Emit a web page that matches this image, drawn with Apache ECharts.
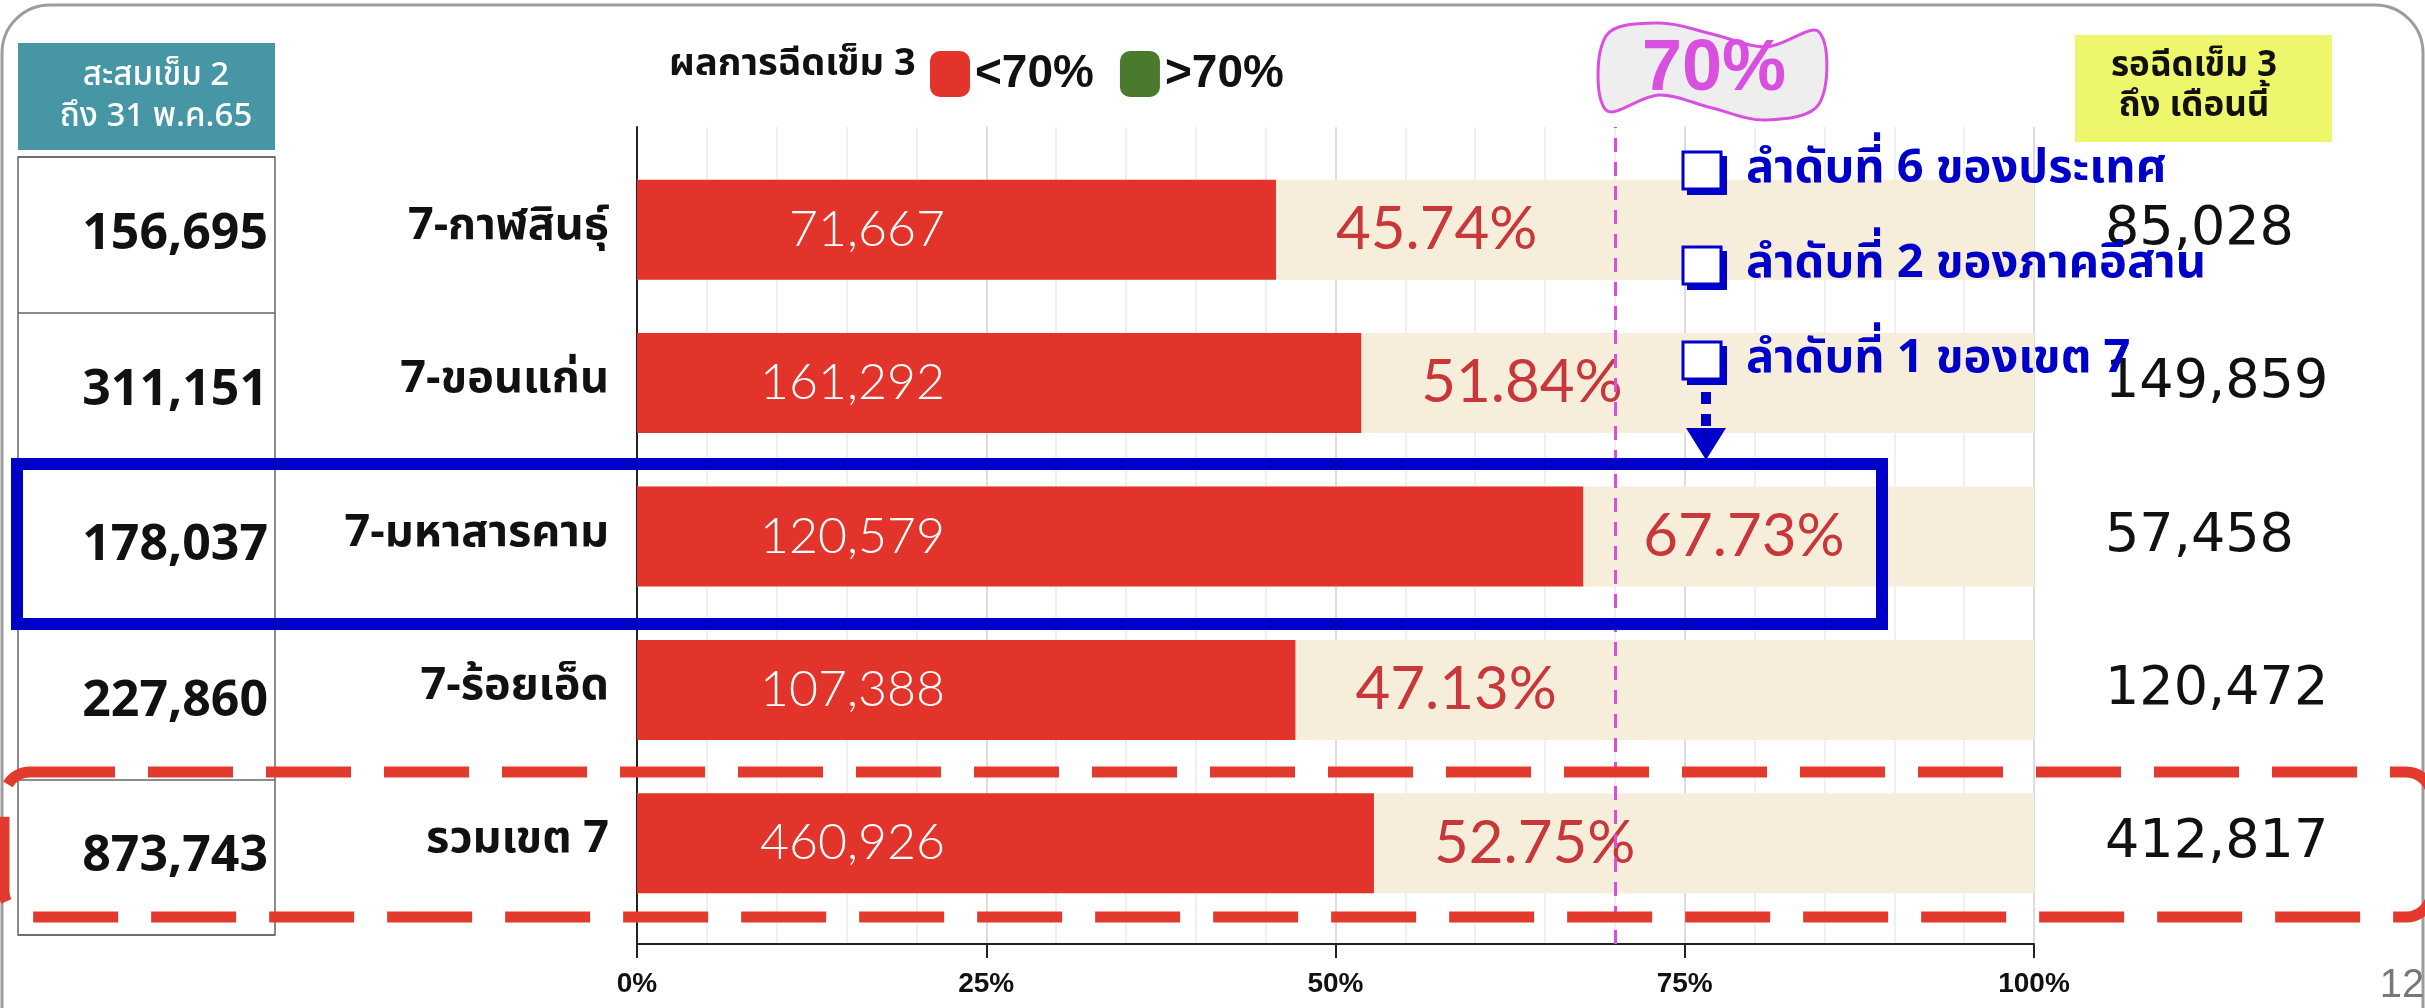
<!DOCTYPE html>
<html>
<head>
<meta charset="utf-8">
<script src="https://cdn.jsdelivr.net/npm/echarts@6/dist/echarts.min.js"></script>
<style>
  html, body { margin: 0; padding: 0; background: #fff; }
  #chart { width: 2425px; height: 1008px; }
</style>
</head>
<body>
<div id="chart"></div>
<script>
// data
const categories = ['7-กาฬสินธุ์', '7-ขอนแก่น', '7-มหาสารคาม', '7-ร้อยเอ็ด', 'รวมเขต 7'];
const dose2Total = [156695, 311151, 178037, 227860, 873743];   // สะสมเข็ม 2
const dose3Done = [71667, 161292, 120579, 107388, 460926];     // ฉีดเข็ม 3 แล้ว
const dose3Pct = [45.74, 51.84, 67.73, 47.13, 52.75];          // % เข็ม 3
const dose3Waiting = [85028, 149859, 57458, 120472, 412817];   // รอฉีดเข็ม 3
const target = 70;
const notes = ['ลำดับที่ 6 ของประเทศ', 'ลำดับที่ 2 ของภาคอีสาน', 'ลำดับที่ 1 ของเขต 7'];

const fmt = v => v.toLocaleString('en-US');
const thai = "'Noto Sans Thai', 'Noto Sans', 'DejaVu Sans', sans-serif";
const narrow = "'Liberation Sans Narrow', 'Liberation Sans', sans-serif";

const below = dose3Pct.map(v => (v < target ? v : '-'));
const above = dose3Pct.map(v => (v >= target ? v : '-'));

const pctLabel = {
  show: true,
  position: 'right',
  distance: 60,
  formatter: p => p.value.toFixed(2) + '%',
  color: '#c8383b',
  fontFamily: 'Lato, sans-serif',
  fontSize: 60
};

const noteGraphics = [];
notes.forEach((t, i) => {
  const y = 150 + i * 95;
  noteGraphics.push(
    { type: 'rect', z: 100, shape: { x: 1687, y: y + 6, width: 40, height: 39 }, style: { fill: '#0000c8' } },
    { type: 'rect', z: 101, shape: { x: 1683, y: y + 2, width: 38, height: 37 }, style: { fill: '#fff', stroke: '#0000c8', lineWidth: 3 } },
    { type: 'text', z: 101, x: 1746, y: y + 22,
      style: { text: t, fill: '#0000c8', font: 'bold 47px ' + thai, textAlign: 'left', textVerticalAlign: 'middle' } }
  );
});

const chart = echarts.init(document.getElementById('chart'));

const option = {
  animation: false,
  backgroundColor: '#fff',
  grid: [
    { left: 637, right: 391, top: 153, bottom: 88 },
    { left: 637, right: 391, top: 127, bottom: 64 },
    { left: 18, right: 2150, top: 157, bottom: 73, show: true, borderColor: '#666', borderWidth: 1.5, backgroundColor: 'transparent' }
  ],
  legend: {
    data: ['<70%', '>70%'],
    left: 925,
    top: 46,
    icon: 'roundRect',
    itemWidth: 40,
    itemHeight: 46,
    itemGap: 26,
    selectedMode: false,
    textStyle: { fontFamily: narrow, fontWeight: 'bold', fontSize: 46, color: '#111' }
  },
  xAxis: [
    { gridIndex: 0, type: 'value', min: 0, max: 100, show: false },
    {
      gridIndex: 1, type: 'value', min: 0, max: 100, interval: 25,
      axisLine: { show: true, lineStyle: { color: '#222', width: 2 } },
      axisTick: { show: true, length: 14, lineStyle: { color: '#222', width: 2 } },
      splitLine: { show: true, lineStyle: { color: '#d2d2d2', width: 1.5 } },
      minorTick: { show: false, splitNumber: 5 },
      minorSplitLine: { show: true, lineStyle: { color: '#ececec', width: 1.5 } },
      axisLabel: { formatter: '{value}%', margin: 26, color: '#111', fontFamily: narrow, fontWeight: 'bold', fontSize: 28 }
    },
    { gridIndex: 2, type: 'value', show: false }
  ],
  yAxis: [
    {
      gridIndex: 0, type: 'category', data: categories, inverse: true,
      axisLine: { show: false }, axisTick: { show: false },
      axisLabel: { margin: 28, color: '#111', fontFamily: thai, fontWeight: 'bold', fontSize: 45 }
    },
    {
      gridIndex: 0, type: 'category', data: dose3Waiting.map(fmt), inverse: true, position: 'right',
      axisLine: { show: false }, axisTick: { show: false },
      axisLabel: { margin: 71, align: 'left', color: '#111', fontFamily: "'DejaVu Sans', sans-serif", fontSize: 54 }
    },
    {
      gridIndex: 1, type: 'value', min: 0, max: 1,
      axisLine: { show: true, lineStyle: { color: '#222', width: 2 } },
      axisTick: { show: false }, axisLabel: { show: false }, splitLine: { show: false }
    },
    {
      gridIndex: 2, type: 'category', data: dose2Total.map(fmt), inverse: true, position: 'right',
      axisLine: { show: false }, axisTick: { show: false },
      splitLine: { show: true, lineStyle: { color: '#666', width: 1.5 } },
      axisLabel: { inside: true, align: 'right', margin: 7, color: '#111', fontFamily: "'Open Sans', sans-serif", fontWeight: 'bold', fontSize: 50 }
    }
  ],
  series: [
    {
      name: '<70%', type: 'bar', xAxisIndex: 0, yAxisIndex: 0,
      data: below, barWidth: 100, barGap: '-100%',
      itemStyle: { color: '#e2342a' },
      showBackground: true,
      backgroundStyle: { color: '#f6eedb' },
      label: pctLabel
    },
    {
      name: '>70%', type: 'bar', xAxisIndex: 0, yAxisIndex: 0,
      data: above, barWidth: 100, barGap: '-100%',
      itemStyle: { color: '#4a7a2e' },
      label: pctLabel
    },
    {
      name: 'count', type: 'bar', xAxisIndex: 0, yAxisIndex: 0,
      data: dose3Pct, barWidth: 100, barGap: '-100%', silent: true,
      itemStyle: { color: 'rgba(0,0,0,0)' },
      label: {
        show: true, position: [308, '50%'], align: 'right', verticalAlign: 'middle',
        formatter: p => fmt(dose3Done[p.dataIndex]),
        color: '#fff', fontFamily: 'Lato, sans-serif', fontWeight: 300, fontSize: 50
      }
    },
    {
      name: 'target', type: 'line', xAxisIndex: 1, yAxisIndex: 2, data: [],
      markLine: {
        silent: true, symbol: 'none', label: { show: false },
        lineStyle: { color: '#d94fe0', type: [14, 10], width: 3 },
        data: [{ xAxis: target }]
      }
    }
  ],
  graphic: [
    // slide frame
    { type: 'rect', silent: true, shape: { x: 2, y: 5, width: 2421, height: 1200, r: 48 }, style: { fill: 'none', stroke: '#9c9c9c', lineWidth: 3 } },
    // left header
    { type: 'rect', shape: { x: 18, y: 43, width: 257, height: 107 }, style: { fill: '#4796a6' } },
    { type: 'text', x: 156, y: 99, style: { text: 'สะสมเข็ม 2\nถึง 31 พ.ค.65', fill: '#fff', font: '500 33px ' + thai, lineHeight: 41, textAlign: 'center', textVerticalAlign: 'middle' } },
    // legend caption
    { type: 'text', x: 669, y: 67, style: { text: 'ผลการฉีดเข็ม 3', fill: '#111', font: 'bold 38px ' + thai, textAlign: 'left', textVerticalAlign: 'middle' } },
    // right header
    { type: 'rect', shape: { x: 2075, y: 35, width: 257, height: 107 }, style: { fill: '#eef76b' } },
    { type: 'text', x: 2194, y: 89, style: { text: 'รอฉีดเข็ม 3\nถึง เดือนนี้', fill: '#111', font: 'bold 35px ' + thai, lineHeight: 40, textAlign: 'center', textVerticalAlign: 'middle' } },
    // 70% flag
    {
      type: 'group', x: 1606, y: 20, z: 50,
      children: [
        { type: 'polygon', shape: { smooth: 0.35, points: [[0, 16], [53, 3], [106, 14], [160, 27], [213, 12], [213, 84], [160, 100], [106, 88], [53, 75], [0, 90]] },
          style: { fill: '#eeeeee', stroke: '#d94fe0', lineWidth: 3 } },
        { type: 'text', x: 108, y: 50, style: { text: '70%', fill: '#d94fe0', font: 'bold 72px ' + "'Liberation Sans', sans-serif", textAlign: 'center', textVerticalAlign: 'middle' } }
      ]
    },
    ...noteGraphics,
    // arrow to highlighted row
    { type: 'line', z: 100, shape: { x1: 1706, y1: 392, x2: 1706, y2: 430 }, style: { stroke: '#0000c8', lineWidth: 10, lineDash: [12, 10] } },
    { type: 'polygon', z: 100, shape: { points: [[1686, 428], [1726, 428], [1706, 460]] }, style: { fill: '#0000c8' } },
    // highlight box
    { type: 'rect', z: 100, silent: true, shape: { x: 17, y: 464, width: 1865, height: 160 }, style: { fill: 'none', stroke: '#0000c8', lineWidth: 12 } },
    // total row box
    { type: 'rect', z: 100, silent: true, shape: { x: 4, y: 772, width: 2428, height: 145, r: 26 }, style: { fill: 'none', stroke: '#e33a2d', lineWidth: 11, lineDash: [85, 33] } },
    // page number
    { type: 'text', x: 2402, y: 986, style: { text: '12', fill: '#777', font: '40px ' + "'Liberation Sans', sans-serif", textAlign: 'center', textVerticalAlign: 'middle' } }
  ]
};

chart.setOption(option);
</script>
</body>
</html>
